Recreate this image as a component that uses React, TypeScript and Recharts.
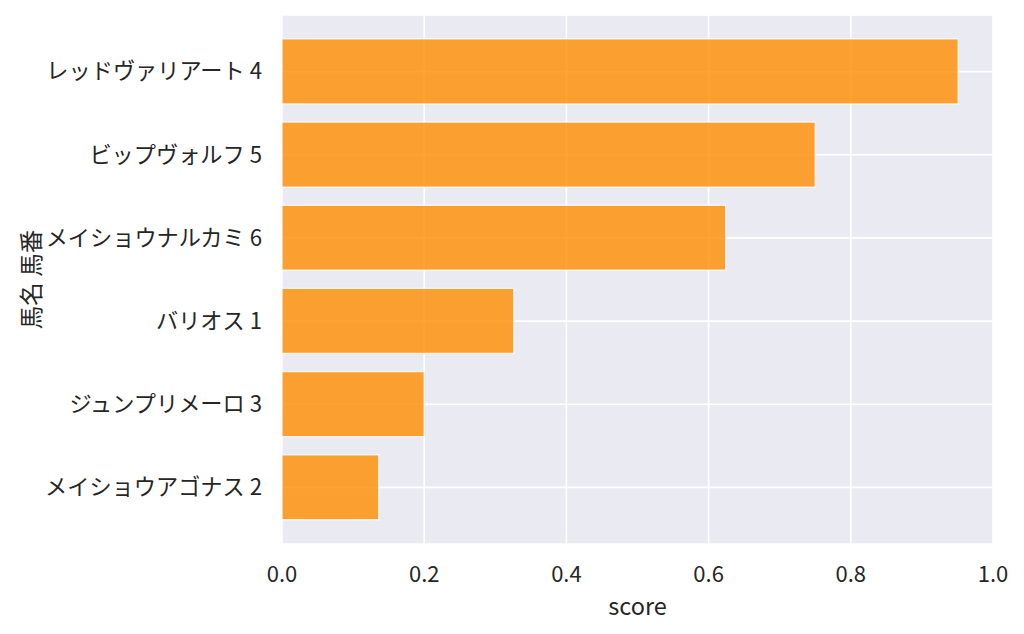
import React from 'react';
import { BarChart, Bar, XAxis, YAxis, CartesianGrid } from 'recharts';

const horseNames = [
  'レッドヴァリアート 4',
  'ビップヴォルフ 5',
  'メイショウナルカミ 6',
  'バリオス 1',
  'ジュンプリメーロ 3',
  'メイショウアゴナス 2',
];
const scores = [0.951, 0.75, 0.624, 0.326, 0.2, 0.136];
const xTicks = [0, 0.2, 0.4, 0.6, 0.8, 1.0];

const data = horseNames.map((name, i) => ({ name, score: scores[i] }));

const FONT = '"Noto Sans CJK JP", "Noto Sans", sans-serif';
const TEXT = '#262626';

const YLabel = (props: any) => {
  const vb = props.viewBox || {};
  const cy = (vb.y ?? 0) + (vb.height ?? 0) / 2;
  const cx = 30;
  return (
    <text
      x={cx}
      y={cy}
      transform={`rotate(-90, ${cx}, ${cy})`}
      textAnchor="middle"
      dominantBaseline="central"
      fontSize={23.5}
      fontFamily={FONT}
      fill={TEXT}
    >
      馬名 馬番
    </text>
  );
};

export default function App() {
  return (
    <div style={{ position: 'absolute', left: 0, top: 0, width: 1024, height: 634, background: '#fff' }}>
      <BarChart
        width={1024}
        height={634}
        data={data}
        layout="vertical"
        margin={{ top: 15, right: 31, bottom: 0, left: 0 }}
        barCategoryGap="10.7%"
      >
        <CartesianGrid fill="#eaeaf2" stroke="#ffffff" strokeWidth={1.6} />
        <XAxis
          type="number"
          dataKey="score"
          domain={[0, 1]}
          ticks={xTicks}
          tickFormatter={(v: number) => v.toFixed(1)}
          axisLine={false}
          tickLine={false}
          tickSize={0}
          tickMargin={22}
          height={90}
          tick={{ fontSize: 22, fontFamily: FONT, fill: TEXT }}
          label={{
            value: 'score',
            position: 'insideBottom',
            offset: 19,
            fontSize: 23.5,
            fontFamily: FONT,
            fill: TEXT,
          }}
        />
        <YAxis
          type="category"
          dataKey="name"
          width={282}
          axisLine={false}
          tickLine={false}
          tickSize={0}
          tickMargin={20}
          padding={{ top: 15, bottom: 15 }}
          tick={{ fontSize: 22.2, fontFamily: FONT, fill: TEXT }}
          interval={0}
          label={<YLabel />}
        />
        <Bar
          dataKey="score"
          fill="#ff8c00"
          fillOpacity={0.8}
          stroke="#ffffff"
          strokeOpacity={0.8}
          strokeWidth={1.3}
          isAnimationActive={false}
        />
      </BarChart>
    </div>
  );
}
